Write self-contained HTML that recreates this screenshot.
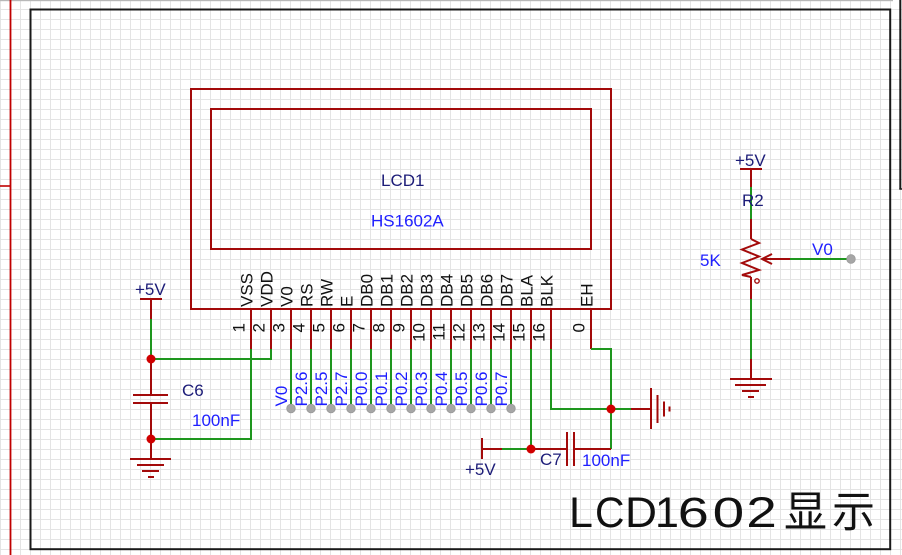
<!DOCTYPE html>
<html>
<head>
<meta charset="utf-8">
<style>
  html,body{margin:0;padding:0;background:#fff;}
  svg{display:block;}
  text{font-family:"Liberation Sans","Noto Sans CJK SC",sans-serif;}
</style>
</head>
<body>
<svg width="902" height="555" viewBox="0 0 902 555" xmlns="http://www.w3.org/2000/svg">
  <defs>
    <pattern id="grid" x="0" y="0" width="10" height="10" patternUnits="userSpaceOnUse">
      <rect x="0" y="0" width="1" height="10" fill="#e4e4e4"/>
      <rect x="0" y="9" width="10" height="1" fill="#e4e4e4"/>
    </pattern>
  </defs>
  <rect width="902" height="555" fill="#fff"/>
  <rect width="902" height="555" fill="url(#grid)"/>

  <!-- top gray line -->
  <rect x="0" y="0" width="893" height="1.2" fill="#b8b8b8"/>
  <!-- left red sheet line -->
  <line x1="10.5" y1="0" x2="10.5" y2="555" stroke="#c00000" stroke-width="1.8"/>
  <line x1="0" y1="186" x2="10.5" y2="186" stroke="#c00000" stroke-width="1.6"/>

  <!-- black frame -->
  <rect x="30.5" y="9.5" width="859.7" height="539.7" fill="none" stroke="#1a1a1a" stroke-width="2"/>
  <line x1="900.3" y1="0" x2="900.3" y2="189" stroke="#1a1a1a" stroke-width="2"/>
  <line x1="899.3" y1="189" x2="902" y2="189" stroke="#1a1a1a" stroke-width="1.5"/>

  <!-- LCD body -->
  <g fill="none" stroke="#a30a0a" stroke-width="2">
    <rect x="191" y="89" width="420" height="220"/>
    <rect x="211" y="109" width="380" height="140"/>
  </g>
  <text x="381" y="186" font-size="17" fill="#1c1c78">LCD1</text>
  <text x="371" y="226.5" font-size="17" fill="#2020ff">HS1602A</text>

  <!-- pins (red parts) -->
  <g stroke="#a30a0a" stroke-width="2" fill="none">
    <line x1="251" y1="309" x2="251" y2="349"/>
    <line x1="271" y1="309" x2="271" y2="349"/>
    <line x1="291" y1="309" x2="291" y2="349"/>
    <line x1="311" y1="309" x2="311" y2="349"/>
    <line x1="331" y1="309" x2="331" y2="349"/>
    <line x1="351" y1="309" x2="351" y2="349"/>
    <line x1="371" y1="309" x2="371" y2="349"/>
    <line x1="391" y1="309" x2="391" y2="349"/>
    <line x1="411" y1="309" x2="411" y2="349"/>
    <line x1="431" y1="309" x2="431" y2="349"/>
    <line x1="451" y1="309" x2="451" y2="349"/>
    <line x1="471" y1="309" x2="471" y2="349"/>
    <line x1="491" y1="309" x2="491" y2="349"/>
    <line x1="511" y1="309" x2="511" y2="349"/>
    <line x1="531" y1="309" x2="531" y2="349"/>
    <line x1="551" y1="309" x2="551" y2="349"/>
    <line x1="591" y1="309" x2="591" y2="349"/>
  </g>

  <!-- green wires -->
  <g stroke="#1e961e" stroke-width="2" fill="none">
    <polyline points="251,349 251,439 151,439"/>
    <polyline points="271,349 271,359 151,359"/>
    <line x1="291" y1="349" x2="291" y2="408.5"/>
    <line x1="311" y1="349" x2="311" y2="408.5"/>
    <line x1="331" y1="349" x2="331" y2="408.5"/>
    <line x1="351" y1="349" x2="351" y2="408.5"/>
    <line x1="371" y1="349" x2="371" y2="408.5"/>
    <line x1="391" y1="349" x2="391" y2="408.5"/>
    <line x1="411" y1="349" x2="411" y2="408.5"/>
    <line x1="431" y1="349" x2="431" y2="408.5"/>
    <line x1="451" y1="349" x2="451" y2="408.5"/>
    <line x1="471" y1="349" x2="471" y2="408.5"/>
    <line x1="491" y1="349" x2="491" y2="408.5"/>
    <line x1="511" y1="349" x2="511" y2="408.5"/>
    <line x1="531" y1="349" x2="531" y2="449"/>
    <polyline points="551,349 551,409 611,409"/>
    <polyline points="591,349 611,349 611,449"/>
    <line x1="611" y1="409" x2="631" y2="409"/>
    <line x1="502" y1="449" x2="531" y2="449"/>
    <!-- C6 -->
    <line x1="151" y1="319" x2="151" y2="359"/>
    <!-- pot -->
    <line x1="751" y1="187" x2="751" y2="219"/>
    <line x1="751" y1="299" x2="751" y2="359"/>
    <line x1="790" y1="259" x2="851" y2="259"/>
  </g>

  <!-- gray terminal dots -->
  <g fill="#a6a6a6" stroke="#9a9a9a" stroke-width="0.8">
    <circle cx="291" cy="408.5" r="4.3"/>
    <circle cx="311" cy="408.5" r="4.3"/>
    <circle cx="331" cy="408.5" r="4.3"/>
    <circle cx="351" cy="408.5" r="4.3"/>
    <circle cx="371" cy="408.5" r="4.3"/>
    <circle cx="391" cy="408.5" r="4.3"/>
    <circle cx="411" cy="408.5" r="4.3"/>
    <circle cx="431" cy="408.5" r="4.3"/>
    <circle cx="451" cy="408.5" r="4.3"/>
    <circle cx="471" cy="408.5" r="4.3"/>
    <circle cx="491" cy="408.5" r="4.3"/>
    <circle cx="511" cy="408.5" r="4.3"/>
    <circle cx="851" cy="259" r="4.3"/>
  </g>

  <!-- pin names -->
  <g font-size="17" fill="#111">
    <text transform="translate(252.5,307) rotate(-90)">VSS</text>
    <text transform="translate(272.5,307) rotate(-90)">VDD</text>
    <text transform="translate(292.5,307) rotate(-90)">V0</text>
    <text transform="translate(312.5,307) rotate(-90)">RS</text>
    <text transform="translate(332.5,307) rotate(-90)">RW</text>
    <text transform="translate(352.5,307) rotate(-90)">E</text>
    <text transform="translate(372.5,307) rotate(-90)">DB0</text>
    <text transform="translate(392.5,307) rotate(-90)">DB1</text>
    <text transform="translate(412.5,307) rotate(-90)">DB2</text>
    <text transform="translate(432.5,307) rotate(-90)">DB3</text>
    <text transform="translate(452.5,307) rotate(-90)">DB4</text>
    <text transform="translate(472.5,307) rotate(-90)">DB5</text>
    <text transform="translate(492.5,307) rotate(-90)">DB6</text>
    <text transform="translate(512.5,307) rotate(-90)">DB7</text>
    <text transform="translate(532.5,307) rotate(-90)">BLA</text>
    <text transform="translate(552.5,307) rotate(-90)">BLK</text>
    <text transform="translate(592.5,307) rotate(-90)">EH</text>
  </g>

  <!-- pin numbers -->
  <g font-size="17" fill="#111" text-anchor="end">
    <text transform="translate(244.5,323) rotate(-90)">1</text>
    <text transform="translate(264.5,323) rotate(-90)">2</text>
    <text transform="translate(284.5,323) rotate(-90)">3</text>
    <text transform="translate(304.5,323) rotate(-90)">4</text>
    <text transform="translate(324.5,323) rotate(-90)">5</text>
    <text transform="translate(344.5,323) rotate(-90)">6</text>
    <text transform="translate(364.5,323) rotate(-90)">7</text>
    <text transform="translate(384.5,323) rotate(-90)">8</text>
    <text transform="translate(404.5,323) rotate(-90)">9</text>
    <text transform="translate(424.5,323) rotate(-90)">10</text>
    <text transform="translate(444.5,323) rotate(-90)">11</text>
    <text transform="translate(464.5,323) rotate(-90)">12</text>
    <text transform="translate(484.5,323) rotate(-90)">13</text>
    <text transform="translate(504.5,323) rotate(-90)">14</text>
    <text transform="translate(524.5,323) rotate(-90)">15</text>
    <text transform="translate(544.5,323) rotate(-90)">16</text>
    <text transform="translate(584.5,323) rotate(-90)">0</text>
  </g>

  <!-- net labels -->
  <g font-size="17" fill="#1c1cff">
    <text transform="translate(287,406.5) rotate(-90)">V0</text>
    <text transform="translate(307,406.5) rotate(-90)">P2.6</text>
    <text transform="translate(327,406.5) rotate(-90)">P2.5</text>
    <text transform="translate(347,406.5) rotate(-90)">P2.7</text>
    <text transform="translate(367,406.5) rotate(-90)">P0.0</text>
    <text transform="translate(387,406.5) rotate(-90)">P0.1</text>
    <text transform="translate(407,406.5) rotate(-90)">P0.2</text>
    <text transform="translate(427,406.5) rotate(-90)">P0.3</text>
    <text transform="translate(447,406.5) rotate(-90)">P0.4</text>
    <text transform="translate(467,406.5) rotate(-90)">P0.5</text>
    <text transform="translate(487,406.5) rotate(-90)">P0.6</text>
    <text transform="translate(507,406.5) rotate(-90)">P0.7</text>
  </g>

  <!-- red component parts -->
  <g stroke="#a30a0a" stroke-width="2" fill="none">
    <!-- C6 -->
    <line x1="140" y1="299" x2="162" y2="299"/>
    <line x1="151" y1="299" x2="151" y2="319"/>
    <line x1="151" y1="359" x2="151" y2="395"/>
    <line x1="133" y1="395" x2="168" y2="395"/>
    <line x1="133" y1="403" x2="168" y2="403"/>
    <line x1="151" y1="403" x2="151" y2="459"/>
    <line x1="130" y1="459" x2="171" y2="459"/>
    <line x1="137" y1="465" x2="164" y2="465"/>
    <line x1="142" y1="471" x2="159" y2="471"/>
    <line x1="148" y1="477" x2="154" y2="477"/>
    <!-- BLA +5V -->
    <line x1="482" y1="438" x2="482" y2="459"/>
    <line x1="482" y1="449" x2="502" y2="449"/>
    <!-- C7 -->
    <line x1="531" y1="449" x2="567" y2="449"/>
    <line x1="567" y1="432" x2="567" y2="466"/>
    <line x1="574" y1="432" x2="574" y2="466"/>
    <line x1="574" y1="449" x2="611" y2="449"/>
    <!-- ground right -->
    <line x1="631" y1="409" x2="651" y2="409"/>
    <line x1="651" y1="388" x2="651" y2="429"/>
    <line x1="657.5" y1="395" x2="657.5" y2="423"/>
    <line x1="664" y1="401.5" x2="664" y2="416.5"/>
    <line x1="669.5" y1="406.5" x2="669.5" y2="411.5"/>
    <!-- pot -->
    <line x1="740" y1="169" x2="762" y2="169"/>
    <line x1="751" y1="169" x2="751" y2="187"/>
    <line x1="751" y1="219" x2="751" y2="239"/>
    <polyline points="751,239 759,243 742,249.5 759,256.5 742,263 759,270 742,275 751,277"/>
    <line x1="751" y1="277" x2="751" y2="299"/>
    <line x1="751" y1="359" x2="751" y2="379"/>
    <line x1="730" y1="379" x2="772" y2="379"/>
    <line x1="735" y1="385" x2="766" y2="385"/>
    <line x1="742" y1="391" x2="759" y2="391"/>
    <line x1="748" y1="397" x2="754" y2="397"/>
    <line x1="762" y1="259" x2="790" y2="259"/>
    <polyline points="772,254 762,259 772,264"/>
  </g>
  <circle cx="757" cy="281" r="2.2" fill="#fff" stroke="#a30a0a" stroke-width="1.4"/>

  <!-- junction dots -->
  <g fill="#d00000">
    <circle cx="151" cy="359" r="4.5"/>
    <circle cx="151" cy="439" r="4.5"/>
    <circle cx="611" cy="409" r="4.5"/>
    <circle cx="531" cy="449" r="4.5"/>
  </g>

  <!-- component labels -->
  <g font-size="17">
    <text x="135" y="295" fill="#1c1c78">+5V</text>
    <text x="182" y="396" fill="#1c1c78">C6</text>
    <text x="192" y="426" fill="#2020ff">100nF</text>
    <text x="465" y="475" fill="#1c1c78">+5V</text>
    <text x="540" y="465" fill="#1c1c78">C7</text>
    <text x="582" y="466" fill="#2020ff">100nF</text>
    <text x="735" y="166" fill="#1c1c78">+5V</text>
    <text x="742" y="206" fill="#1c1c78">R2</text>
    <text x="700" y="266" fill="#2020ff">5K</text>
    <text x="812" y="255" fill="#2020ff">V0</text>
  </g>

  <!-- title -->
  <g font-size="43" fill="#111">
    <text x="569" y="527">L</text>
    <text transform="translate(595,527) scale(0.95,1)">C</text>
    <text transform="translate(625,527) scale(1.03,1)">D</text>
    <text x="655" y="527">1</text>
    <text transform="translate(677.7,527) scale(1.3,1)">6</text>
    <text transform="translate(712.6,527) scale(1.32,1)">0</text>
    <text transform="translate(746.3,527) scale(1.28,1)">2</text>
    <text x="784" y="527">显</text>
    <text x="832" y="527">示</text>
  </g>
</svg>
</body>
</html>
